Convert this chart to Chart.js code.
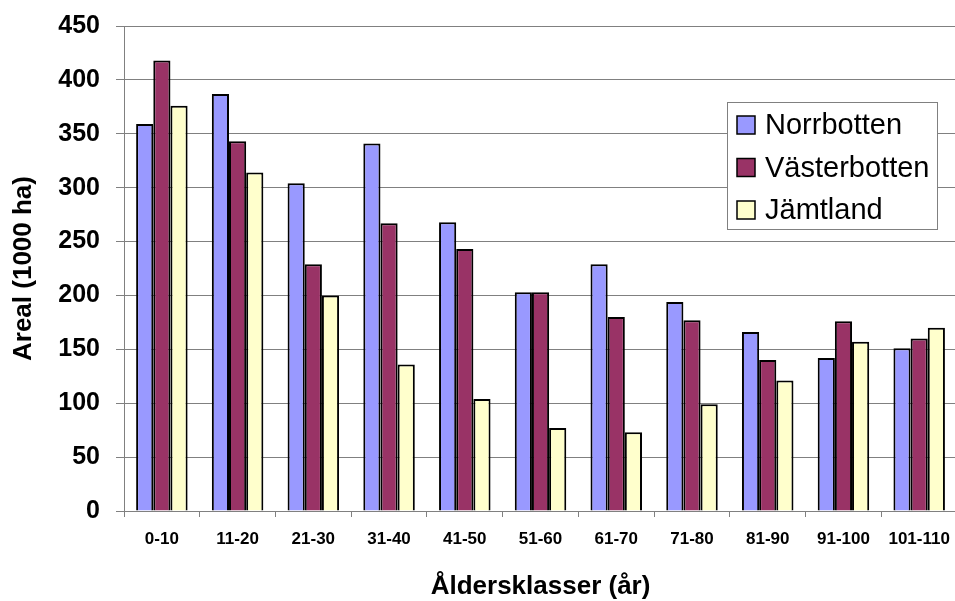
<!DOCTYPE html>
<html>
<head>
<meta charset="utf-8">
<script src="https://cdn.jsdelivr.net/npm/chart.js@4.4.0/dist/chart.umd.min.js"></script>
<style>
  body { margin: 0; background: #fff; overflow: hidden; }
  #wrap { width: 962px; height: 601px; }
</style>
</head>
<body>
<div id="wrap"><canvas id="ageChart" width="962" height="601"></canvas></div>
<script>
// age classes and area per county (1000 ha)
const classes = ["0-10", "11-20", "21-30", "31-40", "41-50", "51-60", "61-70", "71-80", "81-90", "91-100", "101-110"];
const norrbotten = [359, 387, 304, 341, 268, 203, 229, 194, 166, 142, 151];
const vasterbotten = [418, 343, 229, 267, 243, 203, 180, 177, 140, 176, 160];
const jamtland = [376, 314, 200, 136, 104, 77, 73, 99, 121, 157, 170];
const yTicks = [0, 50, 100, 150, 200, 250, 300, 350, 400, 450];

const font = "'Liberation Sans', Arial, sans-serif";

// legend box drawn inside the plot, like the old excel one
const boxLegend = {
  id: 'boxLegend',
  afterDraw(chart) {
    const ctx = chart.ctx;
    const x = 727, y = 102, w = 210, h = 127;
    ctx.save();
    ctx.fillStyle = '#fff';
    ctx.fillRect(x, y, w, h);
    ctx.strokeStyle = '#808080';
    ctx.lineWidth = 1;
    ctx.strokeRect(x + 0.5, y + 0.5, w, h);
    ctx.font = '29px ' + font;
    ctx.textBaseline = 'middle';
    chart.data.datasets.forEach((ds, i) => {
      const cy = 125 + i * 42.5;
      ctx.fillStyle = ds.backgroundColor;
      ctx.fillRect(737, cy - 9, 18, 18);
      ctx.strokeStyle = '#000';
      ctx.lineWidth = 1.5;
      ctx.strokeRect(737, cy - 9, 18, 18);
      ctx.fillStyle = '#000';
      ctx.fillText(ds.label, 765, cy + 1);
    });
    ctx.restore();
  }
};

new Chart(document.getElementById('ageChart'), {
  type: 'bar',
  data: {
    labels: classes,
    datasets: [
      { label: 'Norrbotten', data: norrbotten, backgroundColor: '#9999FF' },
      { label: 'Västerbotten', data: vasterbotten, backgroundColor: '#993366' },
      { label: 'Jämtland', data: jamtland, backgroundColor: '#FFFFCC' }
    ].map(d => Object.assign(d, { borderColor: '#000', borderWidth: 2, categoryPercentage: 0.68, barPercentage: 1 }))
  },
  options: {
    responsive: false,
    animation: false,
    devicePixelRatio: 1,
    layout: { padding: { top: 25, right: 2, left: 0, bottom: 0 } },
    plugins: {
      legend: { display: false },
      tooltip: { enabled: false }
    },
    scales: {
      x: {
        grid: { drawOnChartArea: false, color: '#808080', tickLength: 6, offset: true },
        border: { color: '#808080', width: 1 },
        ticks: { color: '#000', font: { family: font, size: 17, weight: 'bold' }, padding: 12, maxRotation: 0, autoSkip: false },
        title: {
          display: true,
          text: 'Åldersklasser (år)',
          color: '#000',
          font: { family: font, size: 26, weight: 'bold', lineHeight: 1.1 },
          padding: { top: 0, bottom: 0 }
        },
        afterFit: s => { s.height = 90; }
      },
      y: {
        min: 0,
        max: 450,
        afterBuildTicks: s => { s.ticks = yTicks.map(v => ({ value: v })); },
        grid: { color: '#808080', tickLength: 8 },
        border: { color: '#808080', width: 1 },
        ticks: { color: '#000', font: { family: font, size: 25, weight: 'bold', lineHeight: 0.8 }, padding: 16 },
        title: {
          display: true,
          text: 'Areal (1000 ha)',
          color: '#000',
          font: { family: font, size: 26, weight: 'bold', lineHeight: 1.1 },
          padding: { top: 10, bottom: 0 }
        },
        afterFit: s => { s.width = 124; }
      }
    }
  },
  plugins: [boxLegend]
});
</script>
</body>
</html>
